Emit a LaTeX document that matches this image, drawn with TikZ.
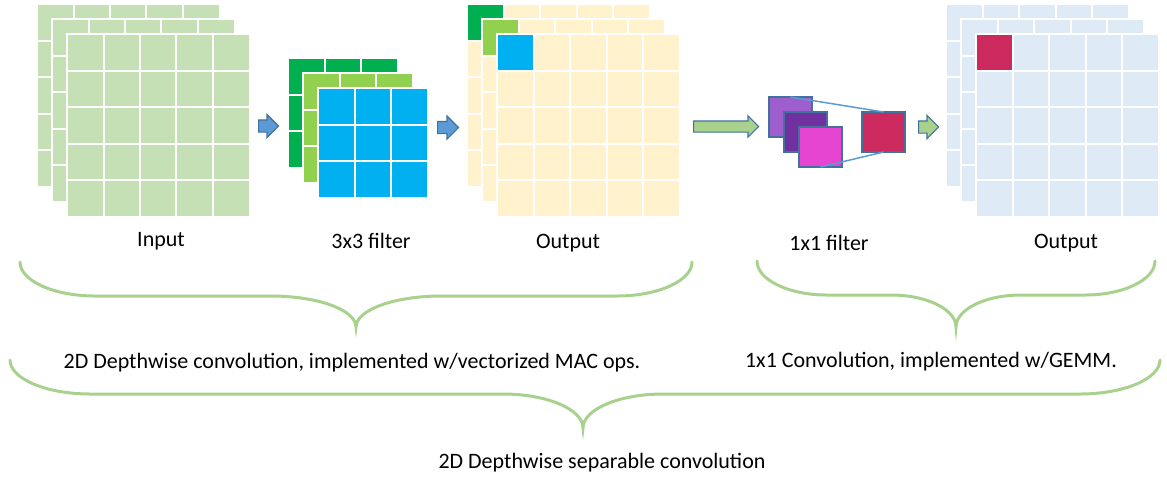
\documentclass[tikz,border=0pt]{standalone}
\usepackage{fontspec}
\setmainfont{Carlito}
\usetikzlibrary{matrix,shapes,arrows,positioning}
\usepackage{xcolor}

\definecolor{ingreen}{HTML}{C5E0B4}
\definecolor{outyellow}{HTML}{FFF2CC}
\definecolor{outblue}{HTML}{DEEBF7}
\definecolor{fdark}{HTML}{00B050}
\definecolor{flight}{HTML}{92D050}
\definecolor{fblue}{HTML}{00B0F0}
\definecolor{arrowblue}{HTML}{5B9BD5}
\definecolor{edgeblue}{HTML}{41719C}
\definecolor{bracegreen}{HTML}{A9D18E}
\definecolor{pwlight}{HTML}{9E5ECE}
\definecolor{pwdark}{HTML}{7030A0}
\definecolor{pwpink}{HTML}{E645D2}
\definecolor{pwred}{HTML}{CC2A5E}

% 5x5 feature map: name, x, y, fill, corner fill
\newcommand{\fmap}[5]{%
  \matrix[grid, nodes={fill=#4}] (#1) at (#2,#3) {
    |[fill=#5]| \& \& \& \& \\
    \& \& \& \& \\
    \& \& \& \& \\
    \& \& \& \& \\
    \& \& \& \& \\
  };}

% curly brace: left, right, tip x, top y, mid y, tip y, end width, tip width
\newcommand{\greenbrace}[8]{%
  \draw[braceline] (#1,#4) .. controls (#1,{#4+0.55*(#5-#4)}) and ({#1+0.45*#7},#5) .. ({#1+#7},#5)
    -- ({#3-#8},#5) .. controls ({#3-0.45*#8},#5) and (#3,{#6-0.55*(#6-#5)}) .. (#3,#6)
    .. controls (#3,{#6-0.55*(#6-#5)}) and ({#3+0.45*#8},#5) .. ({#3+#8},#5)
    -- ({#2-#7},#5) .. controls ({#2-0.45*#7},#5) and (#2,{#4+0.55*(#5-#4)}) .. (#2,#4);}

\begin{document}
\begin{tikzpicture}[x=0.5pt, y=-0.5pt]
    \tikzstyle{cell} = [rectangle, draw=white, line width=1pt, minimum size=18.25pt,
    inner sep=0pt, outer sep=0pt]
    \tikzstyle{grid} = [matrix of nodes, nodes in empty cells, nodes=cell,
    column sep=-1pt, row sep=-1pt, ampersand replacement=\&,
    anchor=north west, inner sep=0pt, outer sep=0pt]
    \tikzstyle{sq} = [rectangle, draw=edgeblue, line width=0.75pt, minimum width=21.5pt,
    minimum height=20pt, inner sep=0pt, outer sep=0pt, anchor=north west]
    \tikzstyle{blockarrow} = [single arrow, draw=edgeblue, line width=0.6pt,
    single arrow head extend=2.75pt, text height=5.5pt, text depth=0pt,
    minimum height=10pt, inner sep=0pt, anchor=west]
    \tikzstyle{braceline} = [draw=bracegreen, line width=1.5pt, line cap=round]
    \tikzstyle{txt} = [font=\fontsize{11}{13}\selectfont, inner sep=0pt]

    \useasboundingbox (0,0) rectangle (1167,479);

    % Input
    \fmap{in1}{36}{3}{ingreen}{ingreen}
    \fmap{in2}{51}{18}{ingreen}{ingreen}
    \fmap{in3}{66}{33}{ingreen}{ingreen}

    % 3x3 filter
    \matrix [grid, nodes={fill=fdark}] (f1) at (287,57) {
      \& \& \\ \& \& \\ \& \& \\
    };
    \matrix [grid, nodes={fill=flight}] (f2) at (302,72) {
      \& \& \\ \& \& \\ \& \& \\
    };
    \matrix [grid, nodes={fill=fblue}] (f3) at (317,87) {
      \& \& \\ \& \& \\ \& \& \\
    };

    % Depthwise output
    \fmap{out1}{466}{3}{outyellow}{fdark}
    \fmap{out2}{481}{18}{outyellow}{flight}
    \fmap{out3}{496}{33}{outyellow}{fblue}

    % 1x1 filter
    \node [sq, fill=pwlight] (p1) at (769,97) {};
    \node [sq, fill=pwdark] (p2) at (784,112) {};
    \node [sq, fill=pwpink] (p3) at (799,127) {};
    \node [sq, fill=pwred] (p4) at (862,112) {};
    \draw [arrowblue, line width=0.75pt] (p1.north) -- (p4.north);
    \draw [arrowblue, line width=0.75pt] (p3.south) -- (p4.south);

    % Pointwise output
    \fmap{res1}{945}{3}{outblue}{outblue}
    \fmap{res2}{960}{18}{outblue}{outblue}
    \fmap{res3}{975}{33}{outblue}{pwred}

    % Arrows
    \node [blockarrow, fill=arrowblue] (a1) at (258,126) {};
    \node [blockarrow, fill=arrowblue, minimum height=10.5pt] (a2) at (437,127.5) {};
    \node [blockarrow, fill=bracegreen, minimum height=32.5pt, text height=5pt,
    single arrow head extend=2.5pt] (a3) at (693,126.5) {};
    \node [blockarrow, fill=bracegreen] (a4) at (918,127) {};

    % Labels
    \node [txt] (inlabel) at (161,241) {Input};
    \node [txt] (flabel) at (371,241) {3x3 filter};
    \node [txt] (outlabel) at (568,243) {Output};
    \node [txt] (plabel) at (829,243) {1x1 filter};
    \node [txt] (reslabel) at (1066,243) {Output};

    % Braces
    \greenbrace{20}{692}{356}{262}{296}{327}{75}{85}
    \greenbrace{757}{1155}{956}{261}{295}{327}{70}{65}
    \greenbrace{10}{1160}{583}{360}{394}{428}{80}{80}

    \node [txt] (dwtext) at (352,363) {2D Depthwise convolution, implemented w/vectorized MAC ops.};
    \node [txt] (pwtext) at (931,362) {1x1 Convolution, implemented w/GEMM.};
    \node [txt] (septext) at (602,463) {2D Depthwise separable convolution};

  \end{tikzpicture}
\end{document}
